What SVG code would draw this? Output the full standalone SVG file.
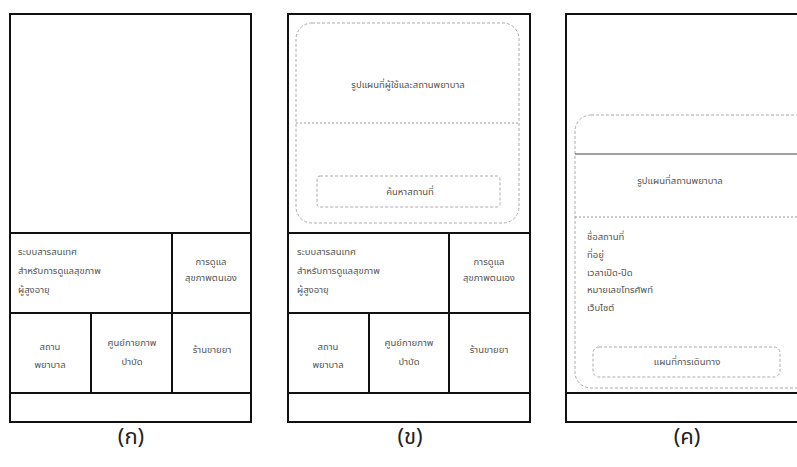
<svg xmlns="http://www.w3.org/2000/svg" width="797" height="467" viewBox="0 0 797 467">
  <style>
    .frame { fill: none; stroke: #111; stroke-width: 2; }
    .div { stroke: #111; stroke-width: 2; fill: none; }
    .card { fill: none; stroke: #aaa; stroke-width: 1; stroke-dasharray: 3 2; }
    .dots { stroke: #999; stroke-width: 1; stroke-dasharray: 2 2; fill: none; }
    .t { font-family: "Noto Sans Thai", "Noto Sans", "DejaVu Sans", sans-serif; font-size: 9.5px; fill: #555; }
    .c { text-anchor: middle; }
    .cap { font-family: "Noto Sans Thai", "Noto Sans", "DejaVu Sans", sans-serif; font-size: 22px; fill: #222; text-anchor: middle; }
  </style>
  <rect width="797" height="467" fill="#fff"/>

  <!-- Screen (ก): home menu -->
  <g id="screen-a">
    <rect class="frame" x="10" y="14" width="241" height="408"/>
    <line class="div" x1="10" y1="233" x2="251" y2="233"/>
    <line class="div" x1="10" y1="313" x2="251" y2="313"/>
    <line class="div" x1="10" y1="393" x2="251" y2="393"/>
    <line class="div" x1="172" y1="233" x2="172" y2="393"/>
    <line class="div" x1="91" y1="313" x2="91" y2="393"/>
    <g id="a-info">
      <text class="t" x="18" y="255">ระบบสารสนเทศ</text>
      <text class="t" x="18" y="274">สำหรับการดูแลสุขภาพ</text>
      <text class="t" x="18" y="293">ผู้สูงอายุ</text>
    </g>
    <g id="a-self">
      <text class="t c" x="211" y="265">การดูแล</text>
      <text class="t c" x="211" y="281">สุขภาพตนเอง</text>
    </g>
    <g id="a-hospital">
      <text class="t c" x="50" y="350">สถาน</text>
      <text class="t c" x="50" y="368">พยาบาล</text>
    </g>
    <g id="a-physio">
      <text class="t c" x="132" y="346">ศูนย์กายภาพ</text>
      <text class="t c" x="132" y="365">บำบัด</text>
    </g>
    <g id="a-pharmacy">
      <text class="t c" x="212" y="353">ร้านขายยา</text>
    </g>
    <text class="cap" x="131" y="444">(ก)</text>
  </g>

  <!-- Screen (ข): map card over menu -->
  <g id="screen-b">
    <rect class="frame" x="288" y="14" width="242" height="408"/>
    <line class="div" x1="288" y1="233" x2="530" y2="233"/>
    <line class="div" x1="288" y1="313" x2="530" y2="313"/>
    <line class="div" x1="288" y1="393" x2="530" y2="393"/>
    <line class="div" x1="449" y1="233" x2="449" y2="393"/>
    <line class="div" x1="369" y1="313" x2="369" y2="393"/>
    <g id="b-map">
      <rect class="card" x="296" y="23" width="223" height="200" rx="16"/>
      <line class="dots" x1="296" y1="123" x2="519" y2="123"/>
      <text class="t c" x="408" y="88">รูปแผนที่ผู้ใช้และสถานพยาบาล</text>
      <rect class="card" x="317" y="176" width="183" height="31" rx="3"/>
      <text class="t c" x="410" y="195">ค้นหาสถานที่</text>
    </g>
    <g id="b-info">
      <text class="t" x="297" y="255">ระบบสารสนเทศ</text>
      <text class="t" x="297" y="274">สำหรับการดูแลสุขภาพ</text>
      <text class="t" x="297" y="293">ผู้สูงอายุ</text>
    </g>
    <g id="b-self">
      <text class="t c" x="489" y="265">การดูแล</text>
      <text class="t c" x="489" y="281">สุขภาพตนเอง</text>
    </g>
    <g id="b-hospital">
      <text class="t c" x="328" y="350">สถาน</text>
      <text class="t c" x="328" y="368">พยาบาล</text>
    </g>
    <g id="b-physio">
      <text class="t c" x="409" y="346">ศูนย์กายภาพ</text>
      <text class="t c" x="409" y="365">บำบัด</text>
    </g>
    <g id="b-pharmacy">
      <text class="t c" x="489" y="353">ร้านขายยา</text>
    </g>
    <text class="cap" x="410" y="444">(ข)</text>
  </g>

  <!-- Screen (ค): place detail sheet -->
  <g id="screen-c">
    <path class="frame" d="M800 14 H566 V422 H800" stroke-width="2.5"/>
    <line class="div" x1="566" y1="393" x2="800" y2="393" stroke-width="2.5"/>
    <g id="c-detail">
      <rect class="card" x="575" y="115" width="240" height="273" rx="16"/>
      <line x1="575" y1="154" x2="797" y2="154" stroke="#444" stroke-width="1"/>
      <text class="t c" x="680" y="184">รูปแผนที่สถานพยาบาล</text>
      <line class="dots" x1="575" y1="217" x2="797" y2="217"/>
      <text class="t" x="587" y="240">ชื่อสถานที่</text>
      <text class="t" x="587" y="258">ที่อยู่</text>
      <text class="t" x="587" y="276">เวลาเปิด-ปิด</text>
      <text class="t" x="587" y="293">หมายเลขโทรศัพท์</text>
      <text class="t" x="587" y="311">เว็บไซต์</text>
      <rect class="card" x="593" y="347" width="187" height="30" rx="6"/>
      <text class="t c" x="687" y="365">แผนที่การเดินทาง</text>
    </g>
    <text class="cap" x="687" y="444">(ค)</text>
  </g>
</svg>
